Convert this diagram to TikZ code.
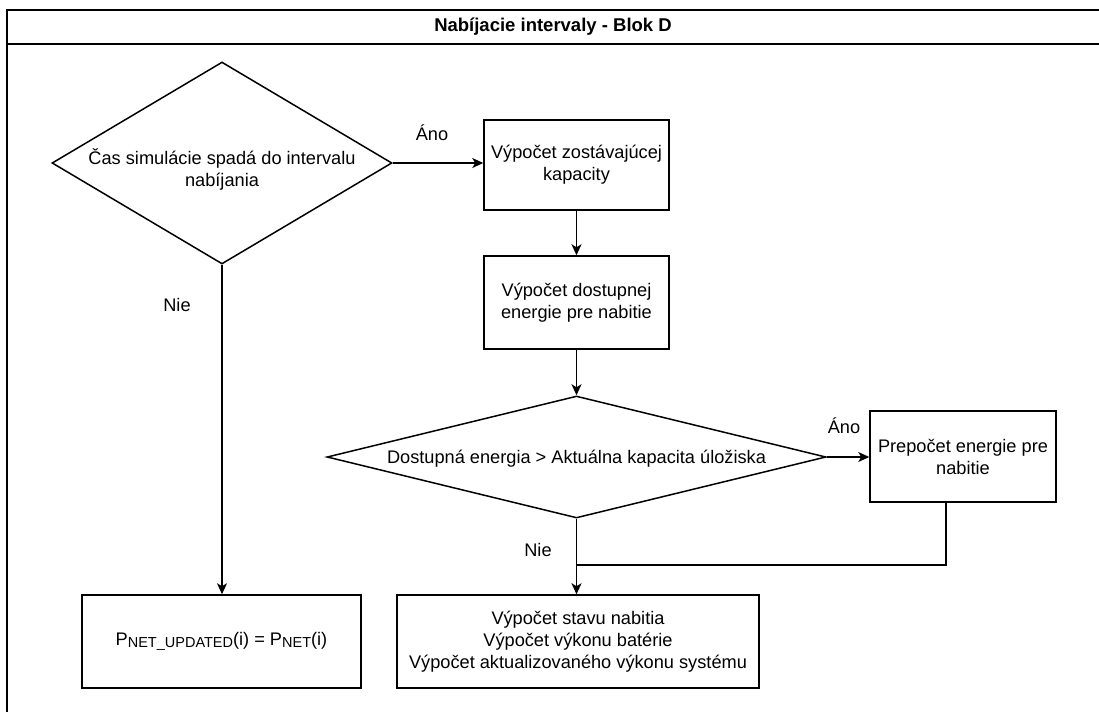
\documentclass[tikz,border=0pt]{standalone}
\usepackage{fontspec}
\setmainfont{Liberation Sans}
\usetikzlibrary{arrows.meta,shapes.geometric}
\begin{document}
\begin{tikzpicture}[x=1pt,y=-1pt,
  every node/.style={font=\fontsize{18.2}{22}\selectfont},
  box/.style={draw, line width=1.5pt, align=center, inner sep=0pt},
  dia/.style={draw, diamond, line width=1.5pt, inner sep=0pt},
  lbl/.style={align=center, inner sep=0pt},
  arr/.style={-{Stealth[length=11pt,width=10pt,inset=3pt]}, line width=1.5pt},
  conn/.style={line width=1.5pt}]
\useasboundingbox (0,0) rectangle (1099,712);
% frame
\draw[line width=2pt] (1099,10) -- (7,10) -- (7,712);
\draw[line width=2pt] (7,44) -- (1099,44);
\node[lbl, font=\fontsize{18.5}{22}\selectfont\bfseries] (title) at (553,27) {Nabíjacie intervaly - Blok D};
% diamonds
\node[dia, minimum width=340pt, minimum height=202pt] (d1) at (222,163) {};
\node[lbl] (d1t) at (222,169) {Čas simulácie spadá do intervalu\\nabíjania};
\node[dia, minimum width=499pt, minimum height=122pt] (d2) at (576.5,457) {};
\node[lbl] (d2t) at (576.5,459) {Dostupná energia > Aktuálna kapacita úložiska};
% boxes
\node[box, minimum width=185pt, minimum height=90pt] (b1) at (576.5,165) {Výpočet zostávajúcej\\kapacity};
\node[box, minimum width=185pt, minimum height=93pt] (b2) at (576.5,302.5) {Výpočet dostupnej\\energie pre nabitie};
\node[box, minimum width=186pt, minimum height=91pt] (b3) at (963,456.5) {Prepočet energie pre\\nabitie};
\node[box, minimum width=362pt, minimum height=93pt] (b4) at (578,641.5) {Výpočet stavu nabitia\\Výpočet výkonu batérie\\Výpočet aktualizovaného výkonu systému};
\node[box, minimum width=279pt, minimum height=93pt] (b5) at (221.5,641.5) {P{\fontsize{14.5}{16}\selectfont\raisebox{-1.5pt}{NET\_UPDATED}}(i) = P{\fontsize{14.5}{16}\selectfont\raisebox{-1.5pt}{NET}}(i)};
% connectors
\draw[arr] (d1.east) -- (d1.east -| b1.west);
\draw[arr] (b1.south) -- (b2.north);
\draw[arr] (b2.south) -- (d2.north);
\draw[arr] (d2.east) -- (d2.east -| b3.west);
\draw[arr] (d2.south) -- (d2.south |- b4.north);
\coordinate (j) at (576.5,565);
\draw[conn] ([xshift=-17pt]b3.south) |- (j);
\draw[arr] (d1.south) -- (d1.south |- b5.north);
% labels
\node[lbl] (l1) at (432,133) {Áno};
\node[lbl] (l2) at (844,426) {Áno};
\node[lbl] (l3) at (177,305) {Nie};
\node[lbl] (l4) at (538,550) {Nie};
\end{tikzpicture}
\end{document}
